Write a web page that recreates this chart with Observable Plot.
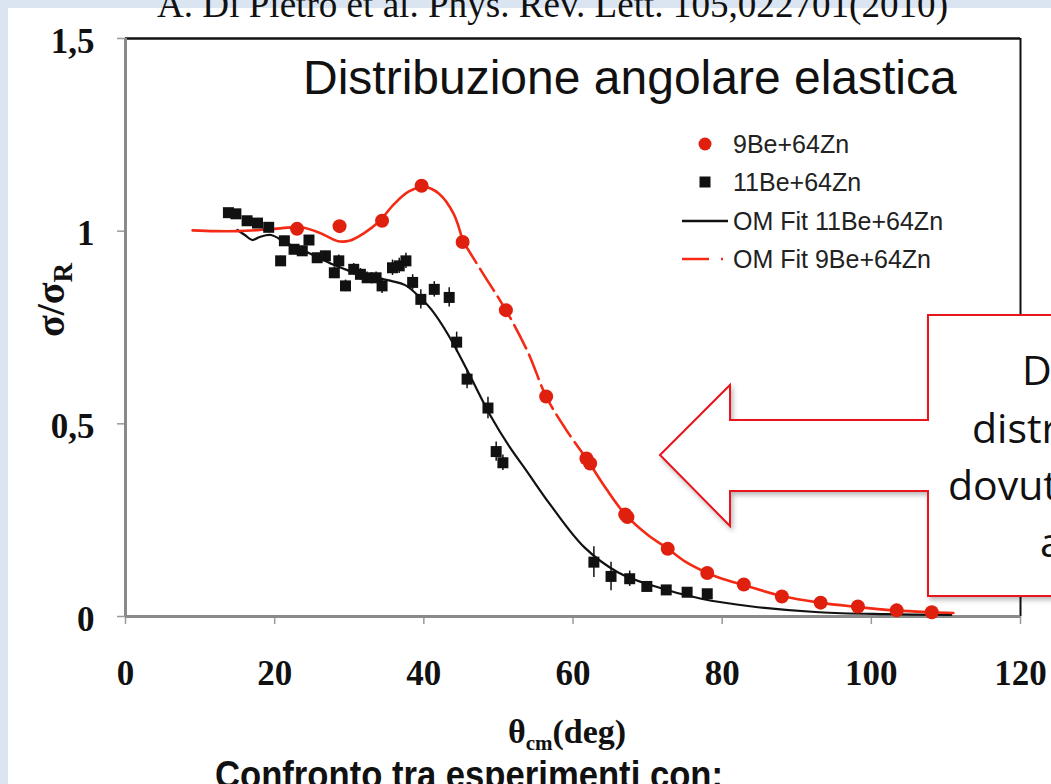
<!DOCTYPE html>
<html><head><meta charset="utf-8">
<script src="https://cdn.jsdelivr.net/npm/d3@7"></script>
<script src="https://cdn.jsdelivr.net/npm/@observablehq/plot@0.6"></script>
<style>
html,body{margin:0;padding:0;}
body{width:1051px;height:784px;overflow:hidden;background:#dbe5f1;position:relative;}
#sheet{position:absolute;left:8px;top:8px;width:1043px;height:776px;background:#fff;}
#chart{position:absolute;left:0;top:0;}
#overlay{position:absolute;left:0;top:0;pointer-events:none;}
</style></head><body>
<div id="sheet"></div>
<div id="chart"></div>
<svg id="overlay" width="1051" height="784"></svg>
<script>
// ---- data ----
const xTicks = [0, 20, 40, 60, 80, 100, 120];
const yTicks = [0, 0.5, 1, 1.5];
const yTickLabels = ["0", "0,5", "1", "1,5"];

// 9Be+64Zn data (red dots)
const be9Theta = [23.0, 28.7, 34.4, 39.7, 45.2, 51.0, 56.4, 61.8, 62.3, 67.0, 67.3, 72.7, 78.0, 82.9, 88.0, 93.2, 98.2, 103.4, 108.1];
const be9Value = [1.006, 1.013, 1.027, 1.118, 0.972, 0.795, 0.571, 0.410, 0.397, 0.265, 0.258, 0.176, 0.113, 0.083, 0.052, 0.036, 0.026, 0.016, 0.011];

// 11Be+64Zn data (black squares) with errors
const be11Theta = [13.8, 14.8, 16.3, 17.7, 19.2, 20.8, 21.3, 22.6, 23.7, 24.6, 25.7, 26.8, 28.0, 28.6, 29.5, 30.6, 31.5, 32.4, 33.6, 34.4, 35.8, 36.7, 37.6, 38.5, 39.6, 41.4, 43.4, 44.4, 45.8, 48.6, 49.7, 50.6, 62.8, 65.1, 67.6, 69.9, 72.5, 75.3, 78.0];
const be11Value = [1.048, 1.045, 1.027, 1.021, 1.010, 0.923, 0.975, 0.953, 0.949, 0.977, 0.931, 0.936, 0.892, 0.923, 0.858, 0.901, 0.888, 0.879, 0.879, 0.858, 0.905, 0.910, 0.923, 0.867, 0.823, 0.849, 0.828, 0.712, 0.616, 0.541, 0.428, 0.399, 0.141, 0.104, 0.098, 0.078, 0.069, 0.063, 0.059];
const be11Error = [0.010, 0.010, 0.010, 0.010, 0.010, 0.012, 0.012, 0.012, 0.012, 0.012, 0.012, 0.012, 0.015, 0.015, 0.015, 0.015, 0.015, 0.015, 0.015, 0.020, 0.020, 0.020, 0.020, 0.020, 0.025, 0.020, 0.025, 0.026, 0.025, 0.028, 0.025, 0.020, 0.040, 0.037, 0.020, 0.012, 0.010, 0.010, 0.010];

// OM fit 11Be+64Zn (black line)
const fit11Theta = [15, 16, 17, 18, 19.5, 21.5, 23.5, 26, 28, 30, 32.4, 35.6, 37.5, 39.6, 41, 43.3, 46, 49, 51.5, 53.7, 57, 61.5, 66, 70.5, 77.2, 84, 93, 102, 110.7];
const fit11Value = [1.003, 0.99, 0.977, 0.985, 0.99, 0.97, 0.953, 0.93, 0.912, 0.897, 0.884, 0.871, 0.86, 0.826, 0.797, 0.73, 0.632, 0.519, 0.44, 0.38, 0.289, 0.18, 0.115, 0.081, 0.046, 0.026, 0.011, 0.006, 0.004];

// OM fit 9Be+64Zn (red line)
const fit9Theta = [9, 12, 15, 18, 21, 23.5, 26, 28.5, 30, 32, 34, 36, 38, 40, 42, 44, 45.2, 48, 51, 54, 56.4, 59, 62, 64.5, 67, 70, 72.7, 75, 78, 80, 83, 88, 93, 98, 103, 108, 111];
const fit9Value = [1.002, 1.0, 1.0, 1.003, 1.008, 1.01, 0.996, 0.974, 0.975, 0.995, 1.025, 1.07, 1.103, 1.115, 1.098, 1.045, 0.975, 0.888, 0.795, 0.684, 0.571, 0.487, 0.405, 0.33, 0.265, 0.212, 0.176, 0.143, 0.113, 0.098, 0.081, 0.053, 0.036, 0.025, 0.016, 0.011, 0.009];

const legendLabels = ["9Be+64Zn", "11Be+64Zn", "OM Fit 11Be+64Zn", "OM Fit 9Be+64Zn"];
const titleText = "Distribuzione angolare elastica";
const citeText = "A. Di Pietro et al. Phys. Rev. Lett. 105,022701(2010)";
const bottomText = "Confronto tra esperimenti con:";
const calloutLines = ["Diversa", "distribuzione", "dovuta all'", "alone"];

// ---- tables ----
const be9 = be9Theta.map((t, i) => ({theta: t, v: be9Value[i]}));
const be11 = be11Theta.map((t, i) => ({theta: t, v: be11Value[i], e: be11Error[i]}));
const fit11 = fit11Theta.map((t, i) => ({theta: t, v: fit11Value[i]}));
const fit9 = fit9Theta.map((t, i) => ({theta: t, v: fit9Value[i]}));

const RED_LINE = "#f42a14", RED_DOT = "#e0200e";
const serif = "'Liberation Serif','Times New Roman',serif";
const sans = "'Liberation Sans',Arial,sans-serif";

const plot = Plot.plot({
  width: 1051, height: 784,
  marginLeft: 125, marginRight: 31, marginTop: 38, marginBottom: 168,
  x: {domain: [0, 120]},
  y: {domain: [0, 1.5]},
  style: {background: "transparent", overflow: "visible"},
  marks: [
    Plot.ruleY([1.5], {stroke: "#111", strokeWidth: 2.5}),
    Plot.ruleX([120], {stroke: "#111", strokeWidth: 2}),
    Plot.axisX({ticks: xTicks, tickSize: 8, tickFormat: () => "", stroke: "#9a9a9a", strokeWidth: 1.5, label: null}),
    Plot.axisY({ticks: yTicks, tickSize: 8, tickFormat: () => "", stroke: "#9a9a9a", strokeWidth: 1.5, label: null}),
    Plot.ruleX([0], {stroke: "#8a8a8a", strokeWidth: 3}),
    Plot.ruleY([0], {stroke: "#8a8a8a", strokeWidth: 3}),
    Plot.text(xTicks, {x: d => d, frameAnchor: "bottom", dy: 68, lineAnchor: "bottom", text: d => String(d),
      fontFamily: serif, fontWeight: "bold", fontSize: 35, fill: "#111"}),
    Plot.text(yTicks, {y: d => d, frameAnchor: "left", dx: -31, dy: 3, textAnchor: "end", lineAnchor: "middle",
      text: (d, i) => yTickLabels[i], fontFamily: serif, fontWeight: "bold", fontSize: 35, fill: "#111"}),
    Plot.line(fit11, {x: "theta", y: "v", stroke: "#111", strokeWidth: 2.2, curve: "catmull-rom"}),
    Plot.line(fit9.filter(d => d.theta <= 45.2), {x: "theta", y: "v", stroke: RED_LINE, strokeWidth: 2.6, curve: "catmull-rom"}),
    Plot.line(fit9.filter(d => d.theta >= 45.2 && d.theta <= 62), {x: "theta", y: "v", stroke: RED_LINE, strokeWidth: 2.6, curve: "catmull-rom", strokeDasharray: "26,7"}),
    Plot.line(fit9.filter(d => d.theta >= 62), {x: "theta", y: "v", stroke: RED_LINE, strokeWidth: 2.6, curve: "catmull-rom"}),
    Plot.ruleX(be11, {x: "theta", y1: d => d.v - d.e, y2: d => d.v + d.e, stroke: "#111", strokeWidth: 1.5}),
    Plot.dot(be11, {x: "theta", y: "v", symbol: "square", r: 6.2, fill: "#111", stroke: "none"}),
    Plot.dot(be9, {x: "theta", y: "v", r: 7, fill: RED_DOT, stroke: "none"})
  ]
});
document.getElementById("chart").appendChild(plot);

// ---- overlay: texts, legend, callout ----
const svg = d3.select("#overlay");

svg.append("text").attr("x", 157).attr("y", 17).attr("font-family", serif).attr("font-size", 38)
  .attr("textLength", 791).attr("lengthAdjust", "spacingAndGlyphs")
  .attr("fill", "#111").text(citeText);

svg.append("text").attr("x", 303).attr("y", 94).attr("font-family", sans).attr("font-size", 48)
  .attr("fill", "#111").text(titleText);

// y label
const yl = svg.append("text").attr("transform", "translate(64,300) rotate(-90)").attr("text-anchor", "middle")
  .attr("font-family", serif).attr("font-weight", "bold").attr("font-size", 40).attr("fill", "#111");
yl.append("tspan").text("σ/σ");
yl.append("tspan").attr("font-size", 27).attr("dy", 8).text("R");

// x label
const xl = svg.append("text").attr("x", 567).attr("y", 743).attr("text-anchor", "middle")
  .attr("font-family", serif).attr("font-weight", "bold").attr("font-size", 34).attr("fill", "#111");
xl.append("tspan").text("θ");
xl.append("tspan").attr("font-size", 21).attr("dy", 7).text("cm");
xl.append("tspan").attr("dy", -7).text("(deg)");

// legend
const lg = svg.append("g").attr("font-family", sans).attr("font-size", 25).attr("fill", "#222");
const legY = [144, 182, 221, 259];
lg.append("circle").attr("cx", 705).attr("cy", legY[0]).attr("r", 6.5).attr("fill", RED_DOT);
lg.append("rect").attr("x", 699.5).attr("y", legY[1] - 5.5).attr("width", 11).attr("height", 11).attr("fill", "#111");
lg.append("line").attr("x1", 682).attr("x2", 728).attr("y1", legY[2]).attr("y2", legY[2]).attr("stroke", "#111").attr("stroke-width", 2.5);
lg.append("line").attr("x1", 682).attr("x2", 709).attr("y1", legY[3]).attr("y2", legY[3]).attr("stroke", RED_LINE).attr("stroke-width", 2.5);
lg.append("line").attr("x1", 721).attr("x2", 723).attr("y1", legY[3]).attr("y2", legY[3]).attr("stroke", RED_LINE).attr("stroke-width", 2.5);
legendLabels.forEach((t, i) => {
  lg.append("text").attr("x", 733).attr("y", legY[i]).attr("dy", "0.36em").text(t);
});

// callout arrow box
const defs = svg.append("defs");
const f = defs.append("filter").attr("id", "sh").attr("x", "-10%").attr("y", "-10%").attr("width", "130%").attr("height", "130%");
f.append("feDropShadow").attr("dx", 2).attr("dy", 3).attr("stdDeviation", 2.5).attr("flood-color", "#000").attr("flood-opacity", 0.28);
const pts = [[1070,315],[928,315],[928,420],[730,420],[730,385],[660,455],[730,526],[730,491],[928,491],[928,596],[1070,596]];
svg.append("polygon").attr("points", pts.map(p => p.join(",")).join(" "))
  .attr("fill", "#fff").attr("stroke", "#e8141a").attr("stroke-width", 2).attr("filter", "url(#sh)");
const cx = [1022, 972, 948, 1040], cy = [385, 443, 500, 557];
calloutLines.forEach((t, i) => {
  svg.append("text").attr("x", cx[i]).attr("y", cy[i]).attr("font-family", "'Open Sans',Lato,sans-serif")
    .attr("font-size", 41).attr("fill", "#111").text(t);
});

svg.append("text").attr("x", 215).attr("y", 788).attr("font-family", sans).attr("font-weight", "bold")
  .attr("font-size", 39).attr("textLength", 508).attr("lengthAdjust", "spacingAndGlyphs")
  .attr("fill", "#111").text(bottomText);
</script>
</body></html>
